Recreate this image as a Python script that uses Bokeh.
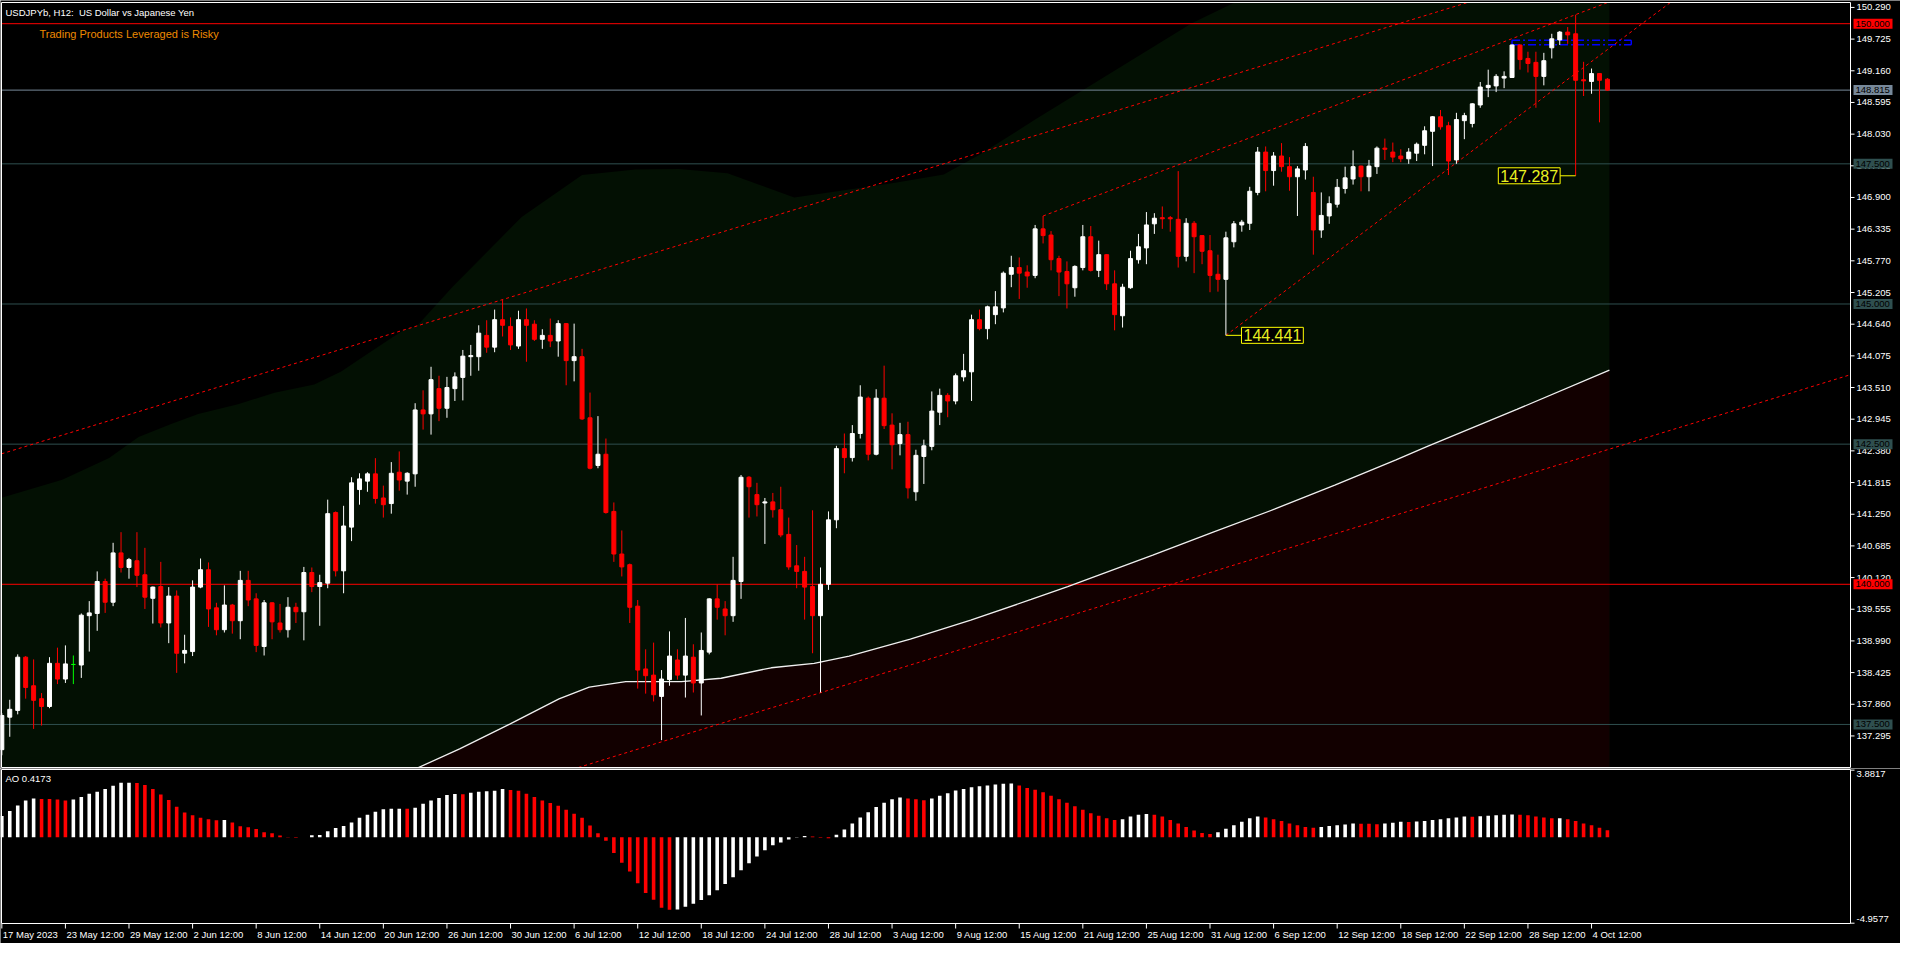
from bokeh.plotting import figure
from bokeh.layouts import column
from bokeh.models import Range1d, Label, ColumnDataSource
from bokeh.core.properties import value
from bokeh.embed import file_html
from bokeh.resources import INLINE

FONT = "Liberation Sans"

# ---------------- OHLC (H12 bars, index 0 = 17 May 2023 12:00) ----------------
opens = [137.05,137.63,137.75,138.70,138.19,137.96,137.82,138.59,138.31,138.57,
         138.56,139.44,139.48,140.05,139.68,140.56,140.30,140.42,140.17,139.75,
         139.96,139.31,139.79,138.77,138.80,139.95,140.26,139.58,139.19,139.63,
         139.35,140.07,139.74,138.89,139.67,139.31,139.19,139.59,139.51,140.21,
         139.96,140.02,141.28,140.24,141.02,141.69,141.84,141.97,141.54,141.44,
         142.00,141.84,141.97,143.11,143.04,143.49,143.14,143.49,143.69,144.06,
         144.06,144.44,144.23,144.72,144.60,144.25,144.72,144.64,144.37,144.44,
         144.34,144.65,143.99,144.06,142.97,142.12,142.32,141.30,140.54,140.35,
         139.61,138.49,138.38,138.00,138.30,138.65,138.38,138.70,138.24,138.79,
         139.74,139.56,139.44,140.05,141.91,141.60,141.45,141.47,141.33,140.89,
         140.33,140.23,139.96,139.44,140.00,141.15,142.42,142.26,142.69,143.32,
         142.32,143.32,142.84,142.51,142.67,141.65,142.28,142.46,143.07,143.37,
         143.27,143.70,143.79,144.72,144.56,144.81,144.93,145.53,145.65,145.57,
         145.51,146.34,146.23,145.81,145.58,145.29,145.65,146.20,145.60,145.88,
         145.36,144.79,145.29,145.79,146.00,146.43,146.54,146.54,146.51,145.85,
         146.44,146.22,145.95,145.53,145.44,146.11,146.41,146.44,146.99,147.71,
         147.38,147.64,147.45,147.27,147.39,146.99,146.32,146.57,146.78,147.06,
         147.23,147.46,147.27,147.45,147.78,147.71,147.64,147.59,147.69,147.83,
         148.08,148.34,148.18,147.57,148.27,148.22,148.55,148.86,148.89,149.03,
         149.04,149.62,149.38,149.31,149.06,149.57,149.71,149.85,149.82,149.00,
         148.97,149.11,149.01]
highs = [137.70,137.94,138.75,138.72,138.66,138.06,138.70,138.87,138.91,138.73,
         139.48,139.70,140.23,140.10,140.74,140.93,140.47,140.93,140.65,139.96,
         140.40,139.95,139.89,139.10,140.07,140.46,140.39,139.67,139.98,139.65,
         140.24,140.24,139.84,139.72,139.68,139.65,139.77,139.67,140.31,140.30,
         140.17,141.51,141.30,141.40,141.91,141.98,142.00,142.25,141.76,142.18,
         142.37,142.00,143.23,143.46,143.88,143.72,143.70,143.78,144.18,144.27,
         144.62,144.71,144.90,145.07,144.76,144.88,144.92,144.71,144.55,144.74,
         144.71,144.66,144.65,144.20,143.42,143.00,142.60,141.46,140.96,140.37,
         139.72,138.84,138.96,138.47,139.16,138.84,139.40,138.93,139.14,139.75,
         140.00,139.70,140.49,141.95,141.93,141.81,141.54,141.63,141.74,141.19,
         140.70,140.49,141.32,140.30,141.30,142.47,142.69,142.84,143.55,143.35,
         143.48,143.90,143.05,142.88,142.90,142.40,142.58,143.44,143.49,143.41,
         143.76,144.11,144.81,144.90,144.97,145.23,145.58,145.86,145.83,145.69,
         146.41,146.57,146.30,145.86,145.76,145.69,146.41,146.39,146.13,145.89,
         145.60,145.36,145.95,146.25,146.64,146.62,146.74,146.57,147.37,146.53,
         146.48,146.23,146.23,145.88,146.29,146.48,146.50,147.09,147.80,147.81,
         147.71,147.87,147.62,147.46,147.87,147.27,146.99,146.92,147.23,147.45,
         147.74,147.47,147.57,147.81,147.95,147.88,147.76,147.78,147.88,148.17,
         148.35,148.46,148.25,148.41,148.41,148.58,148.96,149.18,149.10,149.15,
         149.63,149.63,149.50,149.50,149.48,149.82,149.87,149.94,150.16,149.32,
         149.20,149.12,149.03]
lows = [136.95,137.28,137.68,137.96,137.42,137.48,137.79,138.22,138.24,138.22,
        138.33,138.80,139.17,139.49,139.61,140.21,140.10,139.95,139.56,139.30,
        139.23,138.95,138.42,138.59,138.72,139.93,139.24,139.09,139.14,139.12,
        139.02,139.61,138.79,138.73,139.02,139.14,139.05,139.31,139.00,139.86,
        139.26,139.93,140.14,139.84,140.77,141.42,141.65,141.44,141.19,141.26,
        141.67,141.60,141.74,142.76,142.67,142.91,142.97,143.27,143.28,143.72,
        143.81,144.13,144.14,144.42,144.18,144.20,143.97,144.34,144.20,144.23,
        144.06,143.55,143.62,142.93,142.05,142.07,141.26,140.40,140.14,139.31,
        138.14,138.05,137.91,137.22,138.19,138.30,137.98,138.07,137.66,138.75,
        139.37,139.09,139.33,139.74,141.19,141.21,140.72,141.19,140.84,140.26,
        139.93,139.37,138.77,138.07,139.90,141.00,141.98,142.19,142.60,142.21,
        142.30,142.77,142.05,142.30,141.53,141.49,141.79,142.39,142.84,142.98,
        143.21,143.62,143.27,144.53,144.37,144.64,144.85,145.30,145.09,145.29,
        145.46,146.08,145.60,145.14,144.92,145.13,145.60,145.58,145.48,145.25,
        144.53,144.58,145.27,145.72,145.71,146.25,146.34,146.29,145.65,145.76,
        145.55,145.71,145.21,145.22,144.441,146.01,146.29,146.32,146.94,147.01,
        147.11,147.36,147.02,146.57,147.22,145.88,146.18,146.43,146.72,146.97,
        147.13,147.01,147.01,147.32,147.57,147.53,147.53,147.50,147.55,147.67,
        147.46,148.11,147.30,147.50,147.94,148.15,148.50,148.69,148.78,148.85,
        149.04,149.18,149.13,148.50,148.90,149.38,149.62,149.64,147.287,148.71,
        148.75,148.24,148.80]
closes = [137.66,137.77,138.70,138.16,137.93,137.82,138.59,138.31,138.58,138.57,
          139.45,139.49,140.05,139.68,140.56,140.30,140.44,140.16,139.77,139.95,
          139.31,139.79,138.77,138.82,139.95,140.26,139.56,139.19,139.63,139.35,
          140.07,139.72,138.91,139.67,139.33,139.19,139.59,139.51,140.21,139.96,
          140.03,141.26,140.24,141.04,141.81,141.88,141.97,141.53,141.42,141.98,
          141.86,141.98,143.11,143.04,143.65,143.14,143.51,143.70,144.07,144.08,
          144.48,144.23,144.72,144.62,144.27,144.72,144.62,144.37,144.44,144.34,
          144.65,143.99,144.06,142.95,142.07,142.32,141.28,140.54,140.31,139.59,
          138.47,138.37,138.03,138.31,138.72,138.38,138.72,138.24,138.82,139.74,
          139.59,139.44,140.07,141.91,141.74,141.42,141.47,141.33,140.88,140.31,
          140.23,139.95,139.44,140.00,141.15,142.42,142.26,142.69,143.34,142.32,
          143.32,142.83,142.49,142.67,141.72,142.30,142.47,143.09,143.37,143.27,
          143.72,143.81,144.72,144.56,144.95,144.95,145.55,145.65,145.55,145.50,
          146.34,146.22,145.79,145.57,145.36,145.67,146.20,145.60,145.88,145.36,
          144.81,145.30,145.81,146.02,146.41,146.53,146.52,146.52,145.85,146.44,
          146.20,145.94,145.51,145.44,146.18,146.43,146.46,147.01,147.71,147.38,
          147.64,147.45,147.27,147.41,147.81,146.32,146.58,146.79,147.08,147.25,
          147.45,147.27,147.46,147.78,147.76,147.62,147.59,147.71,147.85,148.09,
          148.34,148.16,147.55,148.29,148.36,148.57,148.87,148.90,149.06,149.06,
          149.62,149.36,149.29,149.06,149.34,149.73,149.85,149.80,148.99,148.98,
          149.11,148.99,148.815]

# ---------------- Awesome Oscillator ----------------
ao = [1.24,1.52,1.84,2.13,2.24,2.22,2.21,2.18,2.13,2.18,
      2.33,2.52,2.63,2.79,2.98,3.15,3.16,3.14,3.03,2.79,
      2.47,2.16,1.77,1.43,1.28,1.14,1.05,0.99,1.00,0.86,
      0.64,0.58,0.49,0.29,0.24,0.11,0.02,-0.02,0.01,0.12,
      0.13,0.35,0.54,0.65,0.86,1.14,1.31,1.48,1.62,1.65,
      1.66,1.65,1.71,1.94,2.13,2.28,2.45,2.50,2.49,2.58,
      2.64,2.67,2.69,2.79,2.73,2.69,2.52,2.33,2.13,1.99,
      1.82,1.60,1.37,1.14,0.69,0.24,-0.20,-0.90,-1.46,-1.97,
      -2.65,-3.22,-3.61,-4.07,-4.18,-4.17,-4.01,-3.84,-3.62,-3.35,
      -3.05,-2.70,-2.30,-1.90,-1.50,-1.10,-0.75,-0.45,-0.30,-0.12,
      0.02,0.08,0.05,-0.02,-0.05,0.15,0.45,0.80,1.15,1.45,
      1.75,2.00,2.20,2.30,2.25,2.20,2.15,2.25,2.40,2.55,
      2.70,2.80,2.90,2.95,3.00,3.05,3.10,3.11,3.00,2.85,
      2.75,2.60,2.40,2.20,2.00,1.80,1.60,1.40,1.25,1.10,
      1.00,1.05,1.20,1.30,1.35,1.30,1.20,1.00,0.80,0.60,
      0.40,0.25,0.20,0.30,0.50,0.70,0.90,1.10,1.20,1.15,
      1.05,0.95,0.80,0.70,0.60,0.55,0.60,0.65,0.70,0.75,
      0.80,0.79,0.78,0.76,0.80,0.85,0.90,0.89,0.92,0.95,
      1.00,1.05,1.10,1.15,1.20,1.19,1.22,1.25,1.28,1.30,
      1.32,1.30,1.28,1.20,1.15,1.10,1.11,1.05,0.95,0.80,
      0.70,0.55,0.4173]

# ---------------- indicator curves (read at sampled bars) ----------------
ma_i = [52.4, 57.6, 63.9, 70.1, 73.9, 78.5, 85.5, 90.5, 96.8, 102.2, 106.6, 114.3, 121.9,
        129.5, 134.1, 144.8, 152.4, 160.1, 167.7, 175.4, 179.2, 190.6, 202.25]
ma_val = [136.73, 137.065, 137.505, 137.956, 138.167, 138.265, 138.265, 138.324, 138.511,
          138.588, 138.72, 139.02, 139.36, 139.73, 139.96, 140.52, 140.93, 141.34, 141.77,
          142.22, 142.45, 143.12, 143.82]
band_i = [-0.04, 7.6, 13.5, 17.2, 21.3, 24.7, 29.7, 34.3, 39.3, 42.7, 46.4, 50.5, 52.2, 56.8,
          65.4, 73.0, 79.7, 85.2, 91.3, 99.7, 112.2, 118.5, 123.0, 130.1, 149.7, 155.1, 202.25]
band_upper = [141.544, 141.865, 142.251, 142.628, 142.861, 143.037, 143.212, 143.418, 143.564,
              143.797, 144.149, 144.530, 144.605, 145.32, 146.55, 147.30, 147.40, 147.41,
              147.33, 146.90, 147.16, 147.31, 147.66, 148.30, 150.01, 150.41, 153.0]

# trend lines: two anchor points each (bar index, price)
tl_a_i = [0.12, 131.0, 154.0, 83.0]
tl_a_p = [142.334, 146.57, 144.441, 137.19]
tl_b_i = [184.3, 201.6, 209.7, 232.6]
tl_b_p = [150.373, 150.355, 150.355, 143.74]
tl_from = [-1.0, 131.0, 154.0, 0.0]     # where each line starts (bar index)

# horizontal levels
hl_price = [150.000, 148.815, 147.500, 145.000, 142.500, 140.000, 137.500]
hl_color = ["#FF0000", "#778899", "#2F4F4F", "#2F4F4F", "#2F4F4F", "#FF0000", "#2F4F4F"]

# blue rectangle
rect_i = [190.0, 205.0]
rect_p = [149.623, 149.705]

# axis tick values / labels
price_ticks = [150.290, 149.725, 149.160, 148.595, 148.030, 147.465, 146.900, 146.335, 145.770,
               145.205, 144.640, 144.075, 143.510, 142.945, 142.380, 141.815, 141.250, 140.685,
               140.120, 139.555, 138.990, 138.425, 137.860, 137.295]
ao_ticks = [3.8817, -4.9577]
date_i = [0, 8, 16, 24, 32, 40, 48, 56, 64, 72, 80, 88, 96, 104, 112, 120, 128, 136, 144, 152,
          160, 168, 176, 184, 192, 200]
date_labels = ["17 May 2023", "23 May 12:00", "29 May 12:00", "2 Jun 12:00", "8 Jun 12:00",
               "14 Jun 12:00", "20 Jun 12:00", "26 Jun 12:00", "30 Jun 12:00", "6 Jul 12:00",
               "12 Jul 12:00", "18 Jul 12:00", "24 Jul 12:00", "28 Jul 12:00", "3 Aug 12:00",
               "9 Aug 12:00", "15 Aug 12:00", "21 Aug 12:00", "25 Aug 12:00", "31 Aug 12:00",
               "6 Sep 12:00", "12 Sep 12:00", "18 Sep 12:00", "22 Sep 12:00", "28 Sep 12:00",
               "4 Oct 12:00"]

lo_mark = (154, 144.441, 155.96)   # bar, price, label left edge (bar units)
hi_mark = (198, 147.287, 196.05)   # bar, price, label right edge (bar units)

# ---------------- geometry ----------------
W = 1900
X0, X1 = -0.04, 232.58            # chart panel in bar units
Y0, Y1 = 136.732, 150.378         # main panel in price units
A0, A1 = -4.975, 3.92             # AO panel
PANEL_W = 1849
PPB = PANEL_W / (X1 - X0)
XR0 = X0 - 1 / PPB
XR1 = X0 + (W - 1) / PPB

H1, MAIN_H = 768, 765             # canvas height, panel height (panel from y=2 to 767)
PPU = MAIN_H / (Y1 - Y0)
YR1 = Y1 + 2 / PPU
YR0 = Y0 - (H1 - 2 - MAIN_H) / PPU

H2, AO_H = 175, 154               # AO canvas height, panel height (panel from y=1 to 155)
APU = AO_H / (A1 - A0)
AR1 = A1 + 1 / APU
AR0 = A0 - (H2 - 1 - AO_H) / APU

TXT = dict(text_font=value(FONT), text_font_size="9.5px")


def clip(x0, y0, x1, y1, xmin, xmax, ymin, ymax):
    dx, dy = x1 - x0, y1 - y0
    t0, t1 = 0.0, 1.0
    for pp, qq in ((-dx, x0 - xmin), (dx, xmax - x0), (-dy, y0 - ymin), (dy, ymax - y0)):
        if pp == 0:
            if qq < 0:
                return None
            continue
        t = qq / pp
        if pp < 0:
            t0 = max(t0, t)
        else:
            t1 = min(t1, t)
    if t0 > t1:
        return None
    return x0 + t0 * dx, y0 + t0 * dy, x0 + t1 * dx, y0 + t1 * dy


def make_fig(h, yr0, yr1):
    f = figure(width=W, height=h, x_range=Range1d(XR0, XR1), y_range=Range1d(yr0, yr1),
               output_backend="svg", toolbar_location=None, x_axis_location=None,
               y_axis_location=None, min_border=0, background_fill_color="black",
               border_fill_color="black", outline_line_color=None)
    f.grid.visible = False
    return f


# ---------------- main panel ----------------
p = make_fig(H1, YR0, YR1)

p.varea(x=band_i, y1=Y0, y2=[min(v, Y1) for v in band_upper], fill_color="#031003")
p.varea(x=ma_i, y1=Y0, y2=ma_val, fill_color="#120000")

p.segment(x0=X0, x1=X1, y0=hl_price, y1=hl_price, line_color=hl_color, line_width=1)
p.line(ma_i, ma_val, line_color="#F0F0F0", line_width=1.3)

sx0, sy0, sx1, sy1 = [], [], [], []
for ai, ap, bi, bp, st in zip(tl_a_i, tl_a_p, tl_b_i, tl_b_p, tl_from):
    s = (bp - ap) / (bi - ai)
    c = clip(st, ap + s * (st - ai), 260.0, ap + s * (260.0 - ai), X0, X1, Y0, Y1)
    if c:
        sx0.append(c[0]); sy0.append(c[1]); sx1.append(c[2]); sy1.append(c[3])
p.segment(x0=sx0, y0=sy0, x1=sx1, y1=sy1, line_color="#FF0000", line_width=1, line_dash="3 3")

p.segment(x0=[rect_i[0], rect_i[0], rect_i[0], rect_i[1]],
          y0=[rect_p[1], rect_p[0], rect_p[0], rect_p[0]],
          x1=[rect_i[1], rect_i[1], rect_i[0], rect_i[1]],
          y1=[rect_p[1], rect_p[0], rect_p[1], rect_p[1]],
          line_color="#0000FF", line_width=1.5, line_dash="8 3 2 3")

n = len(closes)
idx = list(range(n))
ccol = ["#FFFFFF" if c > o else ("#FF0000" if c < o else "#00FF00") for o, c in zip(opens, closes)]
src = ColumnDataSource(dict(x=idx, h=highs, l=lows,
                            top=[max(o, c) for o, c in zip(opens, closes)],
                            bot=[min(o, c) for o, c in zip(opens, closes)], col=ccol))
p.segment(x0="x", y0="l", x1="x", y1="h", line_color="col", line_width=1, source=src)
p.vbar(x="x", top="top", bottom="bot", width=0.5, fill_color="col", line_color="col",
       line_width=1, source=src)

# high / low price markers
p.segment(x0=[lo_mark[0], hi_mark[2]], y0=[lo_mark[1], hi_mark[1]],
          x1=[lo_mark[2], hi_mark[0]], y1=[lo_mark[1], hi_mark[1]], line_color="#FFFF00", line_width=1)
for bar, pr, edge in (lo_mark, hi_mark):
    p.add_layout(Label(x=edge, y=pr, text=f"{pr:.3f}", text_align="left" if edge > bar else "right",
                       text_baseline="middle", text_color="#E8F020", text_font=FONT,
                       text_font_size="16px", background_fill_color="black",
                       border_line_color="#FFFF00", border_line_width=1, padding=2))

# price axis (right)
p.segment(x0=X1, x1=X1 + 4 / PPB, y0=price_ticks, y1=price_ticks, line_color="white", line_width=1)
p.text(x=X1 + 6 / PPB, y=price_ticks, text=[f"{v:.3f}" for v in price_ticks], text_color="white",
       text_align="left", text_baseline="middle", **TXT)
# level price boxes
p.quad(left=X1 + 3 / PPB, right=X1 + 42 / PPB, bottom=[v - 5 / PPU for v in hl_price],
       top=[v + 5 / PPU for v in hl_price], fill_color=hl_color, line_color=None)
p.text(x=X1 + 5 / PPB, y=hl_price, text=[f"{v:.3f}" for v in hl_price], text_color="black",
       text_align="left", text_baseline="middle", **TXT)

# panel border
p.quad(left=X0, right=X1, bottom=Y0, top=Y1, fill_color=None, line_color="white", line_width=1)

# header texts
p.add_layout(Label(x=X0, y=Y1, x_offset=4, y_offset=-4,
                   text="USDJPYb, H12:\u00a0 US Dollar vs Japanese Yen",
                   text_baseline="top", text_color="white", text_font=FONT, text_font_size="9.5px"))
p.add_layout(Label(x=X0, y=Y1, x_offset=38, y_offset=-25, text="Trading Products Leveraged is Risky",
                   text_baseline="top", text_color="#EE8A00", text_font=FONT, text_font_size="11px"))

# ---------------- AO panel ----------------
q = make_fig(H2, AR0, AR1)
acol = ["#FFFFFF"] + ["#FFFFFF" if ao[k] > ao[k - 1] else "#FF0000" for k in range(1, len(ao))]
q.vbar(x=idx, top=ao, bottom=0, width=0.45, fill_color=acol, line_color=None)

q.segment(x0=X1, x1=X1 + 4 / PPB, y0=ao_ticks, y1=ao_ticks, line_color="white", line_width=1)
q.text(x=X1 + 6 / PPB, y=[ao_ticks[0] - 1 / APU], text=[f"{ao_ticks[0]:.4f}"], text_color="white",
       text_align="left", text_baseline="top", **TXT)
q.text(x=X1 + 6 / PPB, y=[ao_ticks[1] + 1 / APU], text=[f"{ao_ticks[1]:.4f}"], text_color="white",
       text_align="left", text_baseline="bottom", **TXT)

q.segment(x0=date_i, x1=date_i, y0=A0, y1=A0 - 5 / APU, line_color="white", line_width=1)
q.text(x=[d + 1 / PPB for d in date_i], y=A0 - 5 / APU, text=date_labels, text_color="white",
       text_align="left", text_baseline="top", **TXT)

q.quad(left=X0, right=X1, bottom=A0, top=A1, fill_color=None, line_color="white", line_width=1)
q.add_layout(Label(x=X0, y=A1, x_offset=4, y_offset=-3, text=f"AO {ao[-1]:.4f}",
                   text_baseline="top", text_color="white", text_font=FONT, text_font_size="9.5px"))

layout = column(p, q, spacing=0)
open("out.html", "w").write(file_html(layout, INLINE))
